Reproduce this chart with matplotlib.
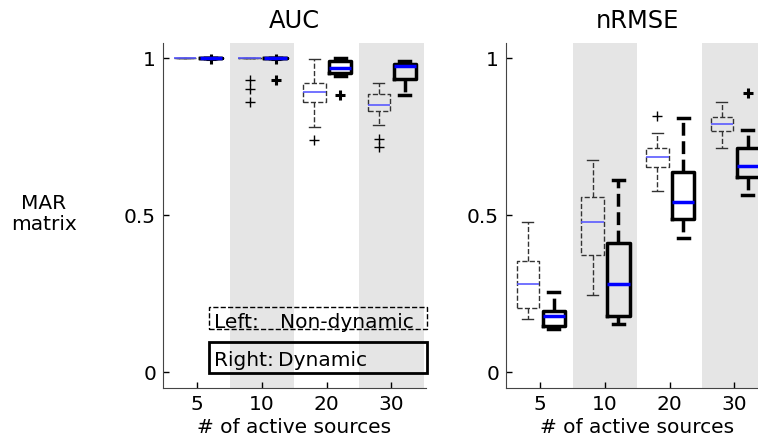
import matplotlib
matplotlib.use("Agg")
import matplotlib.pyplot as plt
from matplotlib.patches import Rectangle

plt.rcParams['font.family'] = ['DejaVu Sans']
plt.rcParams['font.size'] = 14.5

groups = ['5', '10', '20', '30']

# box stats per group: (whislo, q1, med, q3, whishi, fliers)
auc_static = [
    (1.0, 1.0, 1.0, 1.0, 1.0, []),
    (1.0, 1.0, 1.0, 1.0, 1.0, [0.930, 0.900, 0.861]),
    (0.781, 0.861, 0.891, 0.921, 0.997, [0.739]),
    (0.787, 0.832, 0.850, 0.887, 0.921, [0.742, 0.716]),
]
auc_dynamic = [
    (1.0, 1.0, 1.0, 1.0, 1.0, [0.998]),
    (1.0, 1.0, 1.0, 1.0, 1.0, [0.997, 0.930]),
    (0.943, 0.953, 0.970, 0.990, 1.0, [0.882]),
    (0.882, 0.932, 0.975, 0.981, 0.991, []),
]
rmse_static = [
    (0.168, 0.206, 0.280, 0.355, 0.477, []),
    (0.245, 0.373, 0.479, 0.558, 0.675, []),
    (0.576, 0.652, 0.686, 0.714, 0.763, [0.815]),
    (0.714, 0.769, 0.790, 0.811, 0.861, []),
]
rmse_dynamic = [
    (0.137, 0.148, 0.178, 0.194, 0.254, []),
    (0.155, 0.179, 0.280, 0.410, 0.611, []),
    (0.428, 0.487, 0.542, 0.636, 0.808, []),
    (0.564, 0.620, 0.657, 0.715, 0.771, [0.890]),
]


def to_stats(rows):
    return [dict(whislo=a, q1=b, med=c, q3=d, whishi=e, fliers=f) for a, b, c, d, e, f in rows]


def draw_panel(ax, static, dynamic, title):
    for i in range(len(groups)):
        if i % 2 == 1:
            ax.axvspan(i + 0.5, i + 1.5, color='#e5e5e5', lw=0, zorder=0)
    pos = list(range(1, len(groups) + 1))
    ax.bxp(to_stats(static), positions=[p - 0.19 for p in pos], widths=0.35,
           capwidths=0.17, showfliers=True,
           boxprops=dict(color='#333333', lw=1, ls='--'),
           whiskerprops=dict(color='#333333', lw=1, ls='--'),
           capprops=dict(color='#333333', lw=1),
           medianprops=dict(color='#5a5aff', lw=1.2),
           flierprops=dict(marker='+', markeredgecolor='k', markersize=7, markeredgewidth=1))
    ax.bxp(to_stats(dynamic), positions=[p + 0.21 for p in pos], widths=0.35,
           capwidths=0.17, showfliers=True,
           boxprops=dict(color='k', lw=2.5),
           whiskerprops=dict(color='k', lw=2.5, ls='--'),
           capprops=dict(color='k', lw=2.5),
           medianprops=dict(color='#0000ff', lw=2.5),
           flierprops=dict(marker='+', markeredgecolor='k', markersize=7, markeredgewidth=2.2))
    ax.set_xlim(0.47, 4.53)
    ax.set_ylim(-0.05, 1.048)
    ax.set_xticks(pos)
    ax.set_xticklabels(groups)
    ax.set_yticks([0, 0.5, 1])
    ax.set_yticklabels(['0', '0.5', '1'])
    ax.tick_params(direction='in', length=4.5, width=1, pad=5)
    ax.spines['top'].set_visible(False)
    ax.spines['right'].set_visible(False)
    ax.spines['left'].set_color('#444444')
    ax.spines['bottom'].set_color('#444444')
    ax.set_xlabel('# of active sources', labelpad=3)
    ax.set_title(title, pad=11)


fig = plt.figure(figsize=(7.58, 4.41), dpi=100)
ax1 = fig.add_axes([0.2150, 0.1202, 0.3464, 0.7823])
ax2 = fig.add_axes([0.6675, 0.1202, 0.3464, 0.7823])
draw_panel(ax1, auc_static, auc_dynamic, 'AUC')
draw_panel(ax2, rmse_static, rmse_dynamic, 'nRMSE')

fig.text(44 / 758, 1 - 214 / 441, 'MAR\nmatrix', ha='center', va='center', linespacing=1.1)

# legend boxes
fig.patches.append(Rectangle((209 / 758, (441 - 329) / 441), 218 / 758, 22 / 441,
                             transform=fig.transFigure, fill=False, ec='k', lw=1, ls='--'))
fig.patches.append(Rectangle((209 / 758, (441 - 373) / 441), 218 / 758, 31 / 441,
                             transform=fig.transFigure, fill=False, ec='k', lw=2))
fig.text(214 / 758, (441 - 328) / 441, 'Left:', va='baseline')
fig.text(280 / 758, (441 - 328) / 441, 'Non-dynamic', va='baseline')
fig.text(214 / 758, (441 - 366) / 441, 'Right:', va='baseline')
fig.text(278 / 758, (441 - 366) / 441, 'Dynamic', va='baseline')

fig.savefig('out.png', dpi=100)
